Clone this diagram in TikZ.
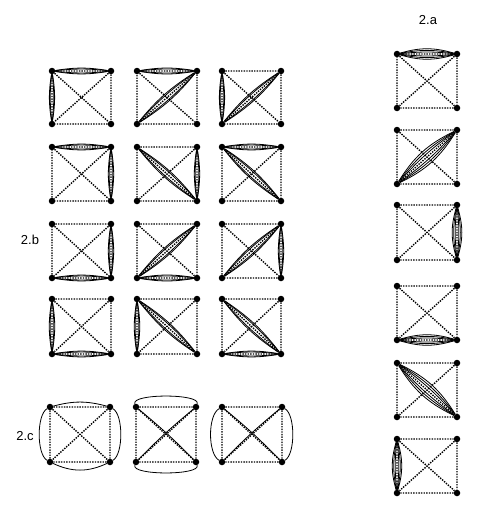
\documentclass[tikz,border=0pt]{standalone}
\usepackage{fontspec}
\setmainfont{Liberation Sans}
\newcommand\sqr[5]{%
  \node[vtx] (#1tl) at (#2,-#3) {};
  \node[vtx] (#1tr) at (#4,-#3) {};
  \node[vtx] (#1bl) at (#2,-#5) {};
  \node[vtx] (#1br) at (#4,-#5) {};
  \draw[dotedge] (#1tl) -- (#1tr) (#1tr) -- (#1br) (#1br) -- (#1bl) (#1bl) -- (#1tl)
                 (#1tl) -- (#1br) (#1tr) -- (#1bl);
}
\newcommand\lenb[2]{\foreach \bb in {6,9}{\draw[arcl] (#1) to[bend left=\bb] (#2); \draw[arcl] (#1) to[bend right=\bb] (#2);}}
\newcommand\lena[2]{\foreach \bb in {6,11,16}{\draw[arcl] (#1) to[bend left=\bb] (#2); \draw[arcl] (#1) to[bend right=\bb] (#2);}}
\begin{document}
\begin{tikzpicture}[x=1pt,y=1pt,
  vtx/.style={circle,fill=black,inner sep=0pt,minimum size=6.5pt},
  dotedge/.style={line width=1.4pt,dash pattern=on 1.4pt off 1.2pt},
  arcl/.style={line width=0.8pt},
  lbl/.style={font=\fontsize{13}{15}\selectfont}]
\useasboundingbox (0,0) rectangle (498,-519);
% labels
\node[lbl] (la) at (428,-20) {2.a};
\node[lbl] (lb) at (30,-240) {2.b};
\node[lbl] (lc) at (25,-436) {2.c};
% 2.b grid
\sqr{b11}{52}{71}{111}{124}
\sqr{b12}{137}{71}{197}{124}
\sqr{b13}{222}{71}{281}{124}
\sqr{b21}{52}{147}{111}{201}
\sqr{b22}{137}{147}{197}{201}
\sqr{b23}{222}{147}{281}{201}
\sqr{b31}{52}{224}{111}{278}
\sqr{b32}{137}{224}{197}{278}
\sqr{b33}{222}{224}{281}{278}
\sqr{b41}{52}{299}{111}{354}
\sqr{b42}{137}{299}{197}{354}
\sqr{b43}{222}{299}{281}{354}
\lenb{b11tl}{b11tr}\lenb{b11tl}{b11bl}
\lenb{b12tl}{b12tr}\lenb{b12bl}{b12tr}
\lenb{b13tl}{b13bl}\lenb{b13bl}{b13tr}
\lenb{b21tl}{b21tr}\lenb{b21tr}{b21br}
\lenb{b22tl}{b22br}\lenb{b22tr}{b22br}
\lenb{b23tl}{b23tr}\lenb{b23tl}{b23br}
\lenb{b31tr}{b31br}\lenb{b31bl}{b31br}
\lenb{b32bl}{b32tr}\lenb{b32bl}{b32br}
\lenb{b33bl}{b33tr}\lenb{b33tr}{b33br}
\lenb{b41tl}{b41bl}\lenb{b41bl}{b41br}
\lenb{b42tl}{b42bl}\lenb{b42tl}{b42br}
\lenb{b43tl}{b43br}\lenb{b43bl}{b43br}
% 2.c row
\sqr{c1}{50}{407}{110}{462}
\sqr{c2}{136}{407}{196}{462}
\sqr{c3}{222}{407}{282}{462}
\draw[arcl] (c1tl) to[out=210,in=150,looseness=0.6] (c1bl);
\draw[arcl] (c1bl) to[out=-25,in=-155] (c1br);
\draw[arcl] (c1br) to[out=30,in=-30,looseness=0.6] (c1tr);
\draw[arcl] (c1tr) to[out=165,in=15] (c1tl);
\draw[arcl] (c2tl) to[out=110,in=70,looseness=0.45] (c2tr);
\draw[arcl] (c2bl) to[out=-110,in=-70,looseness=0.45] (c2br);
\draw[arcl] (c2tl) to[bend left=3] (c2br);
\draw[arcl] (c2bl) to[bend left=3] (c2tr);
\draw[arcl] (c3tl) to[out=210,in=150,looseness=0.65] (c3bl);
\draw[arcl] (c3br) to[out=30,in=-30,looseness=0.6] (c3tr);
\draw[arcl] (c3tl) to[bend left=3] (c3br);
\draw[arcl] (c3bl) to[bend left=3] (c3tr);
% 2.a column
\sqr{a1}{397}{54}{457}{108}
\sqr{a2}{397}{130}{457}{184}
\sqr{a3}{397}{205}{457}{260}
\sqr{a4}{397}{286}{457}{340}
\sqr{a5}{397}{363}{457}{417}
\sqr{a6}{397}{439}{457}{493}
\lena{a1tl}{a1tr}
\lena{a2bl}{a2tr}
\lena{a3tr}{a3br}
\lena{a4bl}{a4br}
\lena{a5tl}{a5br}
\lena{a6tl}{a6bl}
\end{tikzpicture}
\end{document}
